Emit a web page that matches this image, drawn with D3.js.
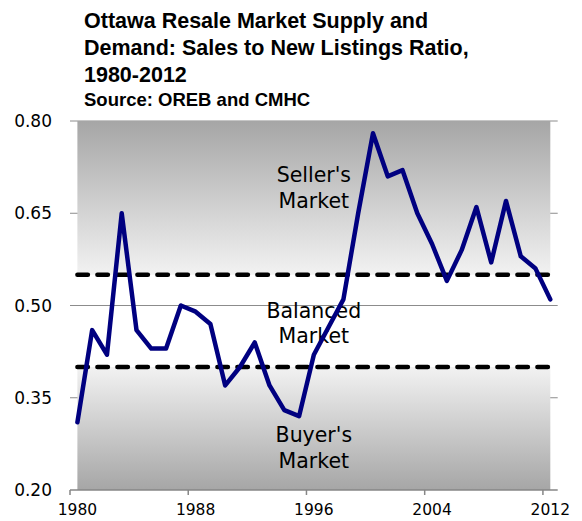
<!DOCTYPE html>
<html>
<head>
<meta charset="utf-8">
<script src="https://cdn.jsdelivr.net/npm/d3@7/dist/d3.min.js"></script>
<style>
  html, body { margin: 0; padding: 0; background: #ffffff; }
  svg { display: block; }
</style>
</head>
<body>
<svg id="chart" width="582" height="521"></svg>
<script>
// Sales-to-new-listings ratio, Ottawa resale market, 1980-2012
const years = d3.range(1980, 2013);
const ratio = [
  0.31, 0.46, 0.42, 0.65, 0.46, 0.43, 0.43, 0.50, 0.49, 0.47,
  0.37, 0.40, 0.44, 0.37, 0.33, 0.32, 0.42, 0.465, 0.51, 0.65,
  0.78, 0.71, 0.72, 0.65, 0.60, 0.54, 0.59, 0.66, 0.57, 0.67,
  0.58, 0.56, 0.51
];

// Market regime thresholds
const sellerThreshold = 0.55;
const buyerThreshold = 0.40;
const yMin = 0.20, yMax = 0.80;

const yTicks = [0.20, 0.35, 0.50, 0.65, 0.80];
const xTickYears = [1980, 1988, 1996, 2004, 2012];

const titleLines = [
  "Ottawa Resale Market Supply and",
  "Demand: Sales to New Listings Ratio,",
  "1980-2012"
];
const subtitle = "Source: OREB and CMHC";

const zoneLabels = [
  { lines: ["Seller's", "Market"], value: 0.697 },
  { lines: ["Balanced", "Market"], value: 0.477 },
  { lines: ["Buyer's", "Market"], value: 0.274 }
];

const svg = d3.select("#chart");

const x = d3.scalePoint().domain(years).range([70, 557.7]).padding(0.5);
const y = d3.scaleLinear().domain([yMin, yMax]).range([490, 121]);
const step = x.step();
const xLeft = x.range()[0], xRight = x.range()[1];

// Gradients for the seller's and buyer's zones
const defs = svg.append("defs");
const gUp = defs.append("linearGradient").attr("id", "gradUpper")
  .attr("x1", 0).attr("y1", 0).attr("x2", 0).attr("y2", 1);
gUp.append("stop").attr("offset", "0%").attr("stop-color", "#a6a6a6");
gUp.append("stop").attr("offset", "100%").attr("stop-color", "#f2f2f2");
const gLo = defs.append("linearGradient").attr("id", "gradLower")
  .attr("x1", 0).attr("y1", 0).attr("x2", 0).attr("y2", 1);
gLo.append("stop").attr("offset", "0%").attr("stop-color", "#f2f2f2");
gLo.append("stop").attr("offset", "100%").attr("stop-color", "#a6a6a6");

// Horizontal gridlines
svg.append("g").selectAll("line")
  .data(yTicks.filter(d => d > yMin))
  .join("line")
  .attr("x1", xLeft).attr("x2", xRight)
  .attr("y1", d => y(d)).attr("y2", d => y(d))
  .attr("stroke", "#8c8c8c").attr("stroke-width", 1);

// Shaded zones
const upperArea = d3.area()
  .x(d => x(d))
  .y0(() => y(sellerThreshold))
  .y1(() => y(yMax));
const lowerArea = d3.area()
  .x(d => x(d))
  .y0(() => y(yMin))
  .y1(() => y(buyerThreshold));
svg.append("path").datum(years).attr("d", upperArea).attr("fill", "url(#gradUpper)");
svg.append("path").datum(years).attr("d", lowerArea).attr("fill", "url(#gradLower)");

// X axis line and tick marks between categories
svg.append("line")
  .attr("x1", xLeft).attr("x2", xRight)
  .attr("y1", y(yMin)).attr("y2", y(yMin))
  .attr("stroke", "#868686").attr("stroke-width", 1.5);
svg.append("g").selectAll("line")
  .data(xTickYears)
  .join("line")
  .attr("x1", d => x(d) - step / 2).attr("x2", d => x(d) - step / 2)
  .attr("y1", y(yMin)).attr("y2", y(yMin) + 5)
  .attr("stroke", "#868686").attr("stroke-width", 1.5);

// X tick labels
svg.append("g").selectAll("text")
  .data(xTickYears)
  .join("text")
  .attr("x", d => x(d))
  .attr("y", y(yMin) + 25)
  .attr("text-anchor", "middle")
  .attr("font-family", "DejaVu Sans, Verdana, sans-serif")
  .attr("font-size", 15.5)
  .attr("fill", "#000")
  .text(d => d);

// Y tick labels
svg.append("g").selectAll("text")
  .data(yTicks)
  .join("text")
  .attr("x", 52)
  .attr("y", d => y(d))
  .attr("dy", "0.36em")
  .attr("text-anchor", "end")
  .attr("font-family", "DejaVu Sans, Verdana, sans-serif")
  .attr("font-size", 17)
  .attr("fill", "#000")
  .text(d => d3.format(".2f")(d));

// Zone labels
const midYear = 1996;
zoneLabels.forEach(z => {
  const t = svg.append("text")
    .attr("x", x(midYear))
    .attr("y", y(z.value))
    .attr("text-anchor", "middle")
    .attr("font-family", "DejaVu Sans, Verdana, sans-serif")
    .attr("font-size", 20.5)
    .attr("fill", "#000");
  t.selectAll("tspan").data(z.lines).join("tspan")
    .attr("x", x(midYear))
    .attr("dy", (d, i) => i === 0 ? "-0.1em" : "1.25em")
    .text(d => d);
});

// Threshold lines
svg.append("g").selectAll("line")
  .data([sellerThreshold, buyerThreshold])
  .join("line")
  .attr("x1", x(years[0])).attr("x2", x(years[years.length - 1]))
  .attr("y1", d => y(d)).attr("y2", d => y(d))
  .attr("stroke", "#000")
  .attr("stroke-width", 4.5)
  .attr("stroke-dasharray", "10.5 9.5")
  .attr("stroke-linecap", "round");

// Ratio series
const line = d3.line()
  .x((d, i) => x(years[i]))
  .y(d => y(d));
svg.append("path")
  .datum(ratio)
  .attr("d", line)
  .attr("fill", "none")
  .attr("stroke", "#000080")
  .attr("stroke-width", 4.5)
  .attr("stroke-linejoin", "round")
  .attr("stroke-linecap", "round");

// Title block
const title = svg.append("text")
  .attr("font-family", "Liberation Sans, Arial, sans-serif")
  .attr("font-weight", "bold")
  .attr("fill", "#000");
titleLines.forEach((l, i) => {
  title.append("tspan")
    .attr("x", 84).attr("y", 28 + i * 26.8)
    .attr("font-size", 21.5)
    .text(l);
});
title.append("tspan")
  .attr("x", 84).attr("y", 106)
  .attr("font-size", 18.5)
  .text(subtitle);
</script>
</body>
</html>
